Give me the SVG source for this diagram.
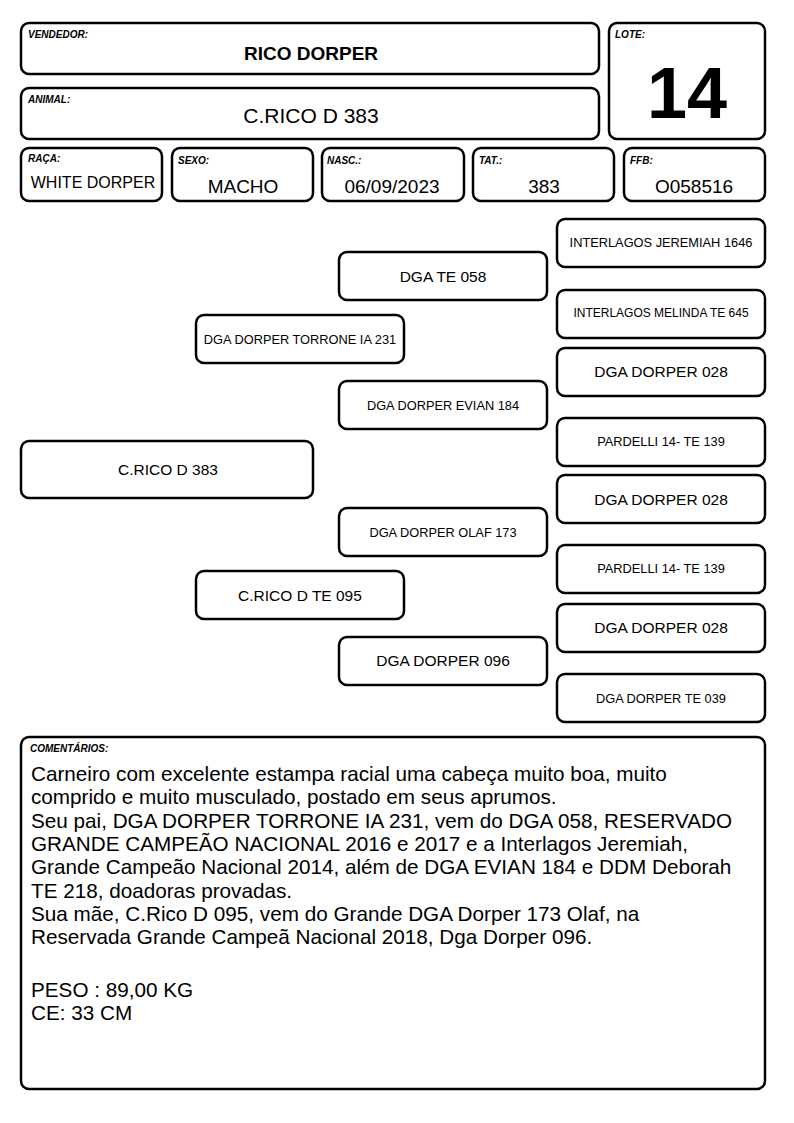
<svg xmlns="http://www.w3.org/2000/svg" width="794" height="1123" viewBox="0 0 794 1123">
<style>
rect.b{fill:#fff;stroke:#000;stroke-width:2.5}
text{font-family:"Liberation Sans",Arial,sans-serif;fill:#000}
.lbl{font-size:10px;font-weight:bold;font-style:italic}
.v{font-size:19px;text-anchor:middle}
.p16{font-size:15.5px;text-anchor:middle}
.p13{font-size:12.8px;text-anchor:middle}
.c{font-size:20.7px}
</style>
<rect width="794" height="1123" fill="#fff"/>
<g id="vendedor"><rect class="b" x="21" y="23" width="578" height="51" rx="8"/><text class="lbl" x="28" y="38">VENDEDOR:</text><text x="311" y="60" font-size="19" font-weight="bold" text-anchor="middle">RICO DORPER</text></g>
<g id="animal"><rect class="b" x="21" y="88" width="578" height="51" rx="8"/><text class="lbl" x="28" y="103">ANIMAL:</text><text x="311" y="123" font-size="21" text-anchor="middle">C.RICO D 383</text></g>
<g id="lote"><rect class="b" x="609" y="23" width="156" height="116" rx="8"/><text class="lbl" x="615" y="38">LOTE:</text><text x="687" y="118" font-size="72" font-weight="bold" text-anchor="middle">14</text></g>
<g id="raca"><rect class="b" x="21" y="148" width="141" height="53" rx="8"/><text class="lbl" x="28" y="162">RAÇA:</text><text x="93" y="188" font-size="16" text-anchor="middle">WHITE DORPER</text></g>
<g id="sexo"><rect class="b" x="172" y="148" width="141" height="53" rx="8"/><text class="lbl" x="178" y="164">SEXO:</text><text class="v" x="243" y="193">MACHO</text></g>
<g id="nasc"><rect class="b" x="322" y="148" width="142" height="53" rx="8"/><text class="lbl" x="327" y="164">NASC.:</text><text class="v" x="392" y="193">06/09/2023</text></g>
<g id="tat"><rect class="b" x="473" y="148" width="141" height="53" rx="8"/><text class="lbl" x="479" y="164">TAT.:</text><text class="v" x="544" y="193">383</text></g>
<g id="ffb"><rect class="b" x="624" y="148" width="141" height="53" rx="8"/><text class="lbl" x="630" y="164">FFB:</text><text class="v" x="694" y="193">O058516</text></g>
<g id="connectors"></g>
<g id="p1"><rect class="b" x="557" y="219" width="208" height="48" rx="8"/><text class="p13" x="661" y="247">INTERLAGOS JEREMIAH 1646</text></g>
<g id="p2"><rect class="b" x="339" y="252" width="208" height="48" rx="8"/><text class="p16" x="443" y="282">DGA TE 058</text></g>
<g id="p3"><rect class="b" x="557" y="290" width="208" height="48" rx="8"/><text x="661" y="317" font-size="12" text-anchor="middle">INTERLAGOS MELINDA TE 645</text></g>
<g id="p4"><rect class="b" x="196" y="315" width="208" height="48" rx="8"/><text class="p13" x="300" y="344">DGA DORPER TORRONE IA 231</text></g>
<g id="p5"><rect class="b" x="557" y="348" width="208" height="48" rx="8"/><text class="p16" x="661" y="377">DGA DORPER 028</text></g>
<g id="p6"><rect class="b" x="339" y="381" width="208" height="48" rx="8"/><text class="p13" x="443" y="410">DGA DORPER EVIAN 184</text></g>
<g id="p7"><rect class="b" x="557" y="418" width="208" height="48" rx="8"/><text class="p13" x="661" y="446">PARDELLI 14- TE 139</text></g>
<g id="p8"><rect class="b" x="21" y="441" width="292" height="57" rx="8"/><text class="p16" x="168" y="475">C.RICO D 383</text></g>
<g id="p9"><rect class="b" x="557" y="475" width="208" height="48" rx="8"/><text class="p16" x="661" y="505">DGA DORPER 028</text></g>
<g id="p10"><rect class="b" x="339" y="508" width="208" height="48" rx="8"/><text class="p13" x="443" y="537">DGA DORPER OLAF 173</text></g>
<g id="p11"><rect class="b" x="557" y="545" width="208" height="48" rx="8"/><text class="p13" x="661" y="573">PARDELLI 14- TE 139</text></g>
<g id="p12"><rect class="b" x="196" y="571" width="208" height="48" rx="8"/><text class="p16" x="300" y="601">C.RICO D TE 095</text></g>
<g id="p13"><rect class="b" x="557" y="604" width="208" height="48" rx="8"/><text class="p16" x="661" y="633">DGA DORPER 028</text></g>
<g id="p14"><rect class="b" x="339" y="637" width="208" height="48" rx="8"/><text class="p16" x="443" y="666">DGA DORPER 096</text></g>
<g id="p15"><rect class="b" x="557" y="674" width="208" height="48" rx="8"/><text class="p13" x="661" y="703">DGA DORPER TE 039</text></g>
<g id="comentarios"><rect class="b" x="21" y="737" width="744" height="352" rx="8"/><text class="lbl" x="30" y="752">COMENTÁRIOS:</text>
<text class="c" x="31" y="781">Carneiro com excelente estampa racial uma cabeça muito boa, muito</text>
<text class="c" x="31" y="804.3">comprido e muito musculado, postado em seus aprumos.</text>
<text class="c" x="31" y="827.6">Seu pai, DGA DORPER TORRONE IA 231, vem do DGA 058, RESERVADO</text>
<text class="c" x="31" y="850.9">GRANDE CAMPEÃO NACIONAL 2016 e 2017 e a Interlagos Jeremiah,</text>
<text class="c" x="31" y="874.2">Grande Campeão Nacional 2014, além de DGA EVIAN 184 e DDM Deborah</text>
<text class="c" x="31" y="897.5">TE 218, doadoras provadas.</text>
<text class="c" x="31" y="920.8">Sua mãe, C.Rico D 095, vem do Grande DGA Dorper 173 Olaf, na</text>
<text class="c" x="31" y="944.1">Reservada Grande Campeã Nacional 2018, Dga Dorper 096.</text>
<text class="c" x="31" y="997">PESO : 89,00 KG</text>
<text class="c" x="31" y="1020.3">CE: 33 CM</text>
</g>
</svg>
